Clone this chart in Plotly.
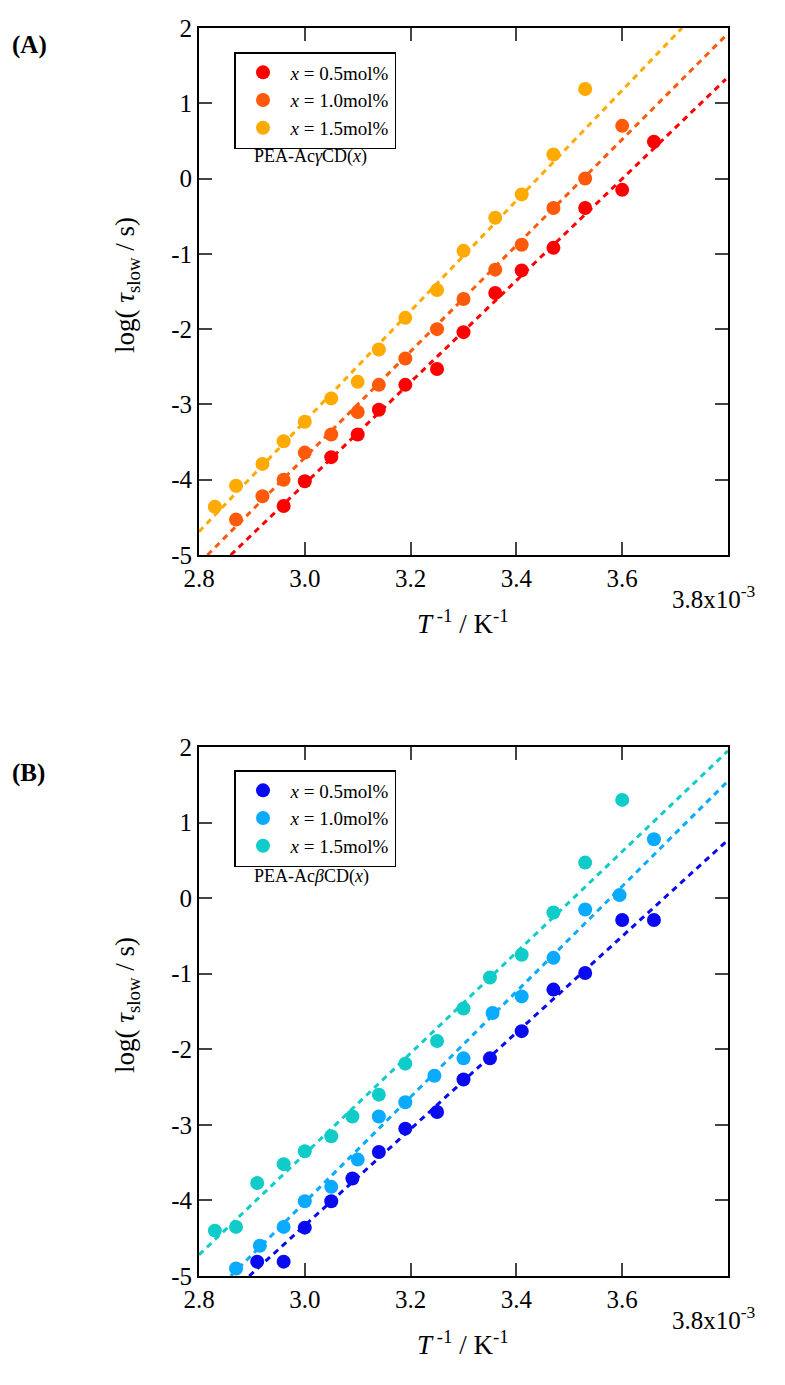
import plotly.graph_objects as go

# inverse temperature (x 10^-3 K^-1) and log(tau_slow / s)
a_x_05 = [2.96, 3.00, 3.05, 3.10, 3.14, 3.19, 3.25, 3.30, 3.36, 3.41, 3.47, 3.53, 3.60, 3.66]
a_y_05 = [-4.35, -4.02, -3.70, -3.40, -3.07, -2.74, -2.53, -2.04, -1.52, -1.22, -0.92, -0.39, -0.15, 0.49]
a_x_10 = [2.87, 2.92, 2.96, 3.00, 3.05, 3.10, 3.14, 3.19, 3.25, 3.30, 3.36, 3.41, 3.47, 3.53, 3.60]
a_y_10 = [-4.53, -4.22, -4.00, -3.64, -3.40, -3.10, -2.74, -2.39, -2.00, -1.60, -1.21, -0.88, -0.39, 0.00, 0.70]
a_x_15 = [2.83, 2.87, 2.92, 2.96, 3.00, 3.05, 3.10, 3.14, 3.19, 3.25, 3.30, 3.36, 3.41, 3.47, 3.53]
a_y_15 = [-4.36, -4.08, -3.79, -3.49, -3.23, -2.92, -2.70, -2.27, -1.85, -1.48, -0.96, -0.52, -0.21, 0.32, 1.19]

b_x_05 = [2.91, 2.96, 3.00, 3.05, 3.09, 3.14, 3.19, 3.25, 3.30, 3.35, 3.41, 3.47, 3.53, 3.60, 3.66]
b_y_05 = [-4.81, -4.81, -4.36, -4.01, -3.71, -3.36, -3.05, -2.83, -2.40, -2.12, -1.76, -1.21, -0.99, -0.29, -0.29]
b_x_10 = [2.87, 2.915, 2.96, 3.00, 3.05, 3.10, 3.14, 3.19, 3.245, 3.30, 3.355, 3.41, 3.47, 3.53, 3.595, 3.66]
b_y_10 = [-4.90, -4.60, -4.35, -4.01, -3.82, -3.46, -2.89, -2.70, -2.35, -2.12, -1.52, -1.30, -0.79, -0.15, 0.04, 0.78]
b_x_15 = [2.83, 2.87, 2.91, 2.96, 3.00, 3.05, 3.09, 3.14, 3.19, 3.25, 3.30, 3.35, 3.41, 3.47, 3.53, 3.60]
b_y_15 = [-4.40, -4.35, -3.77, -3.52, -3.35, -3.15, -2.89, -2.60, -2.19, -1.89, -1.46, -1.05, -0.75, -0.19, 0.47, 1.30]

# linear fit end points (x0, x1, y0, y1)
a_fits = [(2.86, 3.796, -5.0, 1.32), (2.816, 3.796, -5.0, 1.90), (2.80, 3.713, -4.69, 2.0)]
b_fits = [(2.895, 3.80, -5.0, 0.77), (2.86, 3.80, -5.0, 1.55), (2.80, 3.80, -4.72, 1.95)]

x_ticks = [2.8, 3.0, 3.2, 3.4, 3.6]
x_ticklabels = ["2.8", "3.0", "3.2", "3.4", "3.6"]
y_ticks = [-5, -4, -3, -2, -1, 0, 1, 2]
y_ticklabels = ["-5", "-4", "-3", "-2", "-1", "0", "1", "2"]

labels = ["<i>x</i> = 0.5mol%", "<i>x</i> = 1.0mol%", "<i>x</i> = 1.5mol%"]
a_colors = ["#ff0000", "#ff5a0a", "#ffaa00"]
b_colors = ["#0a0af0", "#0aaaff", "#10ccc8"]

FONT = "Liberation Serif"
W, H, OFF = 785, 1385, 8  # page body offset in px


def px_x(p):
    return (p - OFF) / W


def px_y(p):
    return 1 - (p - OFF) / H


fig = go.Figure()

panels = [
    ("x", "y", "legend", [(a_x_05, a_y_05), (a_x_10, a_y_10), (a_x_15, a_y_15)], a_fits, a_colors),
    ("x2", "y2", "legend2", [(b_x_05, b_y_05), (b_x_10, b_y_10), (b_x_15, b_y_15)], b_fits, b_colors),
]
for xa, ya, leg, series, fits, cols in panels:
    for (xs, ys), (x0, x1, y0, y1), c, lab in zip(series, fits, cols, labels):
        fig.add_trace(go.Scatter(x=[x0, x1], y=[y0, y1], mode="lines", xaxis=xa, yaxis=ya,
                                 line=dict(color=c, width=3, dash="6px,5px"), showlegend=False))
        fig.add_trace(go.Scatter(x=xs, y=ys, mode="markers", xaxis=xa, yaxis=ya, name=lab,
                                 legend=leg, marker=dict(color=c, size=14)))

tickfont = dict(size=25, family=FONT, color="black")
axis_common = dict(range=[2.8, 3.8], tickvals=x_ticks, ticktext=x_ticklabels,
                   ticks="inside", ticklen=13, tickwidth=2, mirror="ticks", showline=True, linecolor="black",
                   linewidth=2, showgrid=False, zeroline=False, tickfont=tickfont, automargin=False)
yaxis_common = dict(range=[-5, 2], tickvals=y_ticks, ticktext=y_ticklabels, ticks="inside", ticklen=13, tickwidth=2,
                    mirror="ticks", showline=True, linecolor="black", linewidth=2, showgrid=False, zeroline=False,
                    tickfont=tickfont, automargin=False)

legend_common = dict(bordercolor="black", borderwidth=1.5, bgcolor="white", font=dict(size=19, family=FONT, color="black"),
                     xanchor="left", yanchor="top", tracegroupgap=0, xref="paper", yref="paper", itemwidth=45)

fig.update_layout(
    width=W, height=H, margin=dict(l=0, r=0, t=0, b=0, autoexpand=False),
    font=dict(family=FONT, color="black"),
    paper_bgcolor="white", plot_bgcolor="white",
    xaxis=dict(domain=[px_x(199), px_x(728)], anchor="y", **axis_common),
    yaxis=dict(domain=[px_y(555), px_y(28)], anchor="x", **yaxis_common),
    xaxis2=dict(domain=[px_x(199), px_x(728)], anchor="y2", **axis_common),
    yaxis2=dict(domain=[px_y(1276), px_y(747)], anchor="x2", **yaxis_common),
    legend=dict(x=px_x(234), y=px_y(52), **legend_common),
    legend2=dict(x=px_x(234), y=px_y(770), **legend_common),
)

title_font = dict(size=27, family=FONT, color="black")
for yc in [285, 1005]:
    fig.add_annotation(text="log( <i>τ</i><sub>slow</sub> / s)", x=px_x(127), y=px_y(yc), xref="paper", yref="paper",
                       showarrow=False, textangle=-90, xanchor="center", yanchor="middle", font=title_font)
for yc in [622, 1343]:
    fig.add_annotation(text="<i>T</i><sup> -1</sup> / K<sup>-1</sup>", x=px_x(463), y=px_y(yc), xref="paper",
                       yref="paper", showarrow=False, xanchor="center", yanchor="middle", font=title_font)
for txt, y in [("PEA-Ac<i>γ</i>CD(<i>x</i>)", 157), ("PEA-Ac<i>β</i>CD(<i>x</i>)", 876)]:
    fig.add_annotation(text=txt, x=px_x(252), y=px_y(y), xref="paper", yref="paper", showarrow=False,
                       xanchor="left", yanchor="middle", font=dict(size=18, family=FONT, color="black"))
for y in [597, 1318]:
    fig.add_annotation(text="3.8x10<sup>-3</sup>", x=px_x(670), y=px_y(y), xref="paper", yref="paper",
                       showarrow=False, xanchor="left", yanchor="middle", font=dict(size=25, family=FONT, color="black"))
for txt, y in [("<b>(A)</b>", 45), ("<b>(B)</b>", 773)]:
    fig.add_annotation(text=txt, x=px_x(10), y=px_y(y), xref="paper", yref="paper", showarrow=False,
                       xanchor="left", yanchor="middle", font=dict(size=25, family=FONT, color="black"))

fig.write_html("out.html")
